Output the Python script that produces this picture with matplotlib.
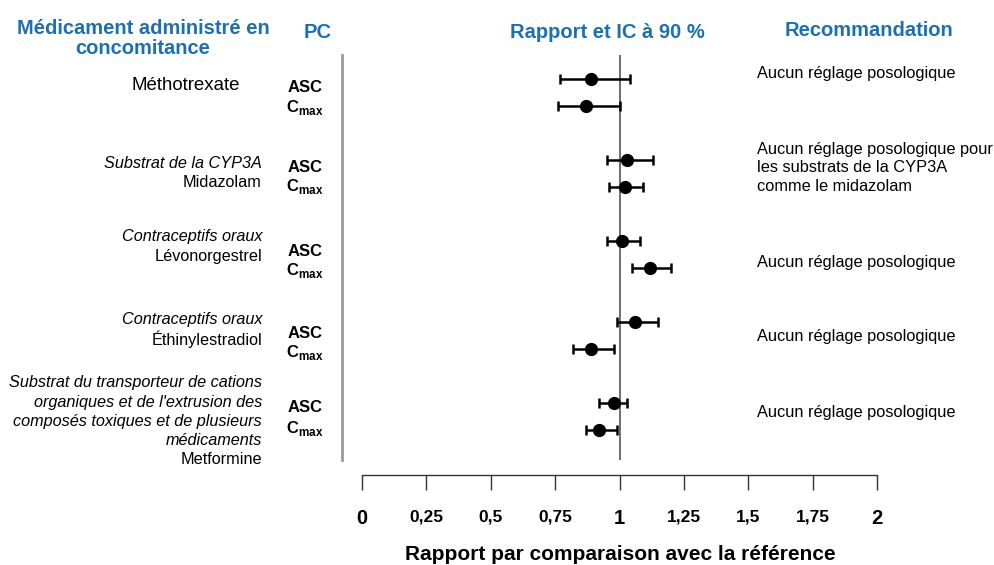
import numpy as np
import matplotlib.pyplot as plt
from matplotlib.lines import Line2D

plt.rcParams['font.family'] = ['Liberation Sans', 'DejaVu Sans']
plt.rcParams['mathtext.fontset'] = 'custom'
plt.rcParams['mathtext.rm'] = 'Liberation Sans'
plt.rcParams['mathtext.bf'] = 'Liberation Sans:bold'

# data (ASC row then Cmax row for each drug)
drug_groups = [None, 'Substrat de la CYP3A', 'Contraceptifs oraux', 'Contraceptifs oraux',
               "Substrat du transporteur de cations\norganiques et de l'extrusion des\n"
               "composés toxiques et de plusieurs\nmédicaments"]
drug_names = ['Méthotrexate', 'Midazolam', 'Lévonorgestrel', 'Éthinylestradiol', 'Metformine']
pk_params = ['ASC', 'Cmax']
ratio = np.array([0.89, 0.87, 1.03, 1.02, 1.01, 1.12, 1.06, 0.89, 0.98, 0.92])
ci_low = np.array([0.77, 0.76, 0.95, 0.96, 0.95, 1.05, 0.99, 0.82, 0.92, 0.87])
ci_high = np.array([1.04, 1.00, 1.13, 1.09, 1.08, 1.20, 1.15, 0.98, 1.03, 0.99])
recommendations = ['Aucun réglage posologique',
                   'Aucun réglage posologique pour\nles substrats de la CYP3A\ncomme le midazolam',
                   'Aucun réglage posologique', 'Aucun réglage posologique',
                   'Aucun réglage posologique']
xticks = [0, 0.25, 0.5, 0.75, 1, 1.25, 1.5, 1.75, 2]
xticklabels = ['0', '0,25', '0,5', '0,75', '1', '1,25', '1,5', '1,75', '2']

blue = '#1b6fb5'
W, H = 995, 565


def fx(px):
    return px / W


def fy(py):
    return 1 - py / H


fig = plt.figure(figsize=(W / 100, H / 100), dpi=100)

# row positions: ASC at 3*i, Cmax at 3*i + 1
rows = np.array([3 * i + k for i in range(len(drug_names)) for k in range(2)])

ax = fig.add_axes([fx(362), fy(460), fx(877) - fx(362), fy(55) - fy(460)])
ax.set_xlim(0, 2)
ax.set_ylim(14.11, -0.89)
ax.axis('off')
ax.axvline(1, color='#555555', lw=1.2)
ax.errorbar(ratio, rows, xerr=[ratio - ci_low, ci_high - ratio], fmt='o', color='black',
            ms=8.5, elinewidth=1.8, capsize=3.6, capthick=1.8)

# grey separator on the left of the plot
fig.add_artist(Line2D([fx(342), fx(342)], [fy(55), fy(460)], color='#999999', lw=2))

# ruler axis under the plot
axr = fig.add_axes([fx(362), fy(475), fx(877) - fx(362), 0.0001])
axr.set_xlim(0, 2)
axr.set_yticks([])
for s in ['top', 'left', 'right']:
    axr.spines[s].set_visible(False)
axr.spines['bottom'].set_color('#333333')
axr.spines['bottom'].set_linewidth(1.0)
axr.set_xticks(xticks)
axr.set_xticklabels(xticklabels)
axr.tick_params(axis='x', direction='out', length=10.8, width=1.0, color='#333333', pad=14)
for lab, v in zip(axr.get_xticklabels(), xticks):
    lab.set_fontweight('bold')
    lab.set_fontsize(14.5 if v in (0, 1, 2) else 12.5)
axr.patch.set_visible(False)

fig.text(fx(620), fy(554), 'Rapport par comparaison avec la référence', ha='center', va='center',
         fontsize=15, fontweight='bold')

# column headers
fig.text(fx(143), fy(38.5), 'Médicament administré en\nconcomitance', ha='center', va='center',
         fontsize=14.5, fontweight='bold', color=blue, linespacing=1.05)
fig.text(fx(318), fy(33), 'PC', ha='center', va='center', fontsize=14.5, fontweight='bold', color=blue)
fig.text(fx(607), fy(33), 'Rapport et IC à 90 %', ha='center', va='center', fontsize=14.5,
         fontweight='bold', color=blue)
fig.text(fx(869), fy(31), 'Recommandation', ha='center', va='center', fontsize=14.5,
         fontweight='bold', color=blue)

# drug labels
name_y = [85, 183, 256, 339, 460]
for grp, name, ny in zip(drug_groups, drug_names, name_y):
    if grp is None:
        fig.text(fx(240), fy(ny), name, ha='right', va='center', fontsize=13.4)
        continue
    fig.text(fx(262), fy(ny), name, ha='right', va='center', fontsize=11.7)
    for k, line in enumerate(reversed(grp.split('\n'))):
        fig.text(fx(262), fy(ny - 19.3 * (k + 1)), line, ha='right', va='center',
                 fontsize=11.7, style='italic')

# PK parameter labels
pc_y = [(88, 108), (168, 187), (251, 271), (333, 353), (408, 428)]
for ya, yc in pc_y:
    fig.text(fx(305), fy(ya), pk_params[0], ha='center', va='center', fontsize=12, fontweight='bold')
    fig.text(fx(305), fy(yc), r'$\mathbf{C}_{\mathbf{max}}$', ha='center', va='center', fontsize=12)

# recommendations
rec_y = [73, 168, 262, 337, 412]
for rec, ry in zip(recommendations, rec_y):
    fig.text(fx(757), fy(ry), rec, ha='left', va='center', fontsize=11.8, linespacing=1.32)

fig.savefig('out.png', dpi=100)
